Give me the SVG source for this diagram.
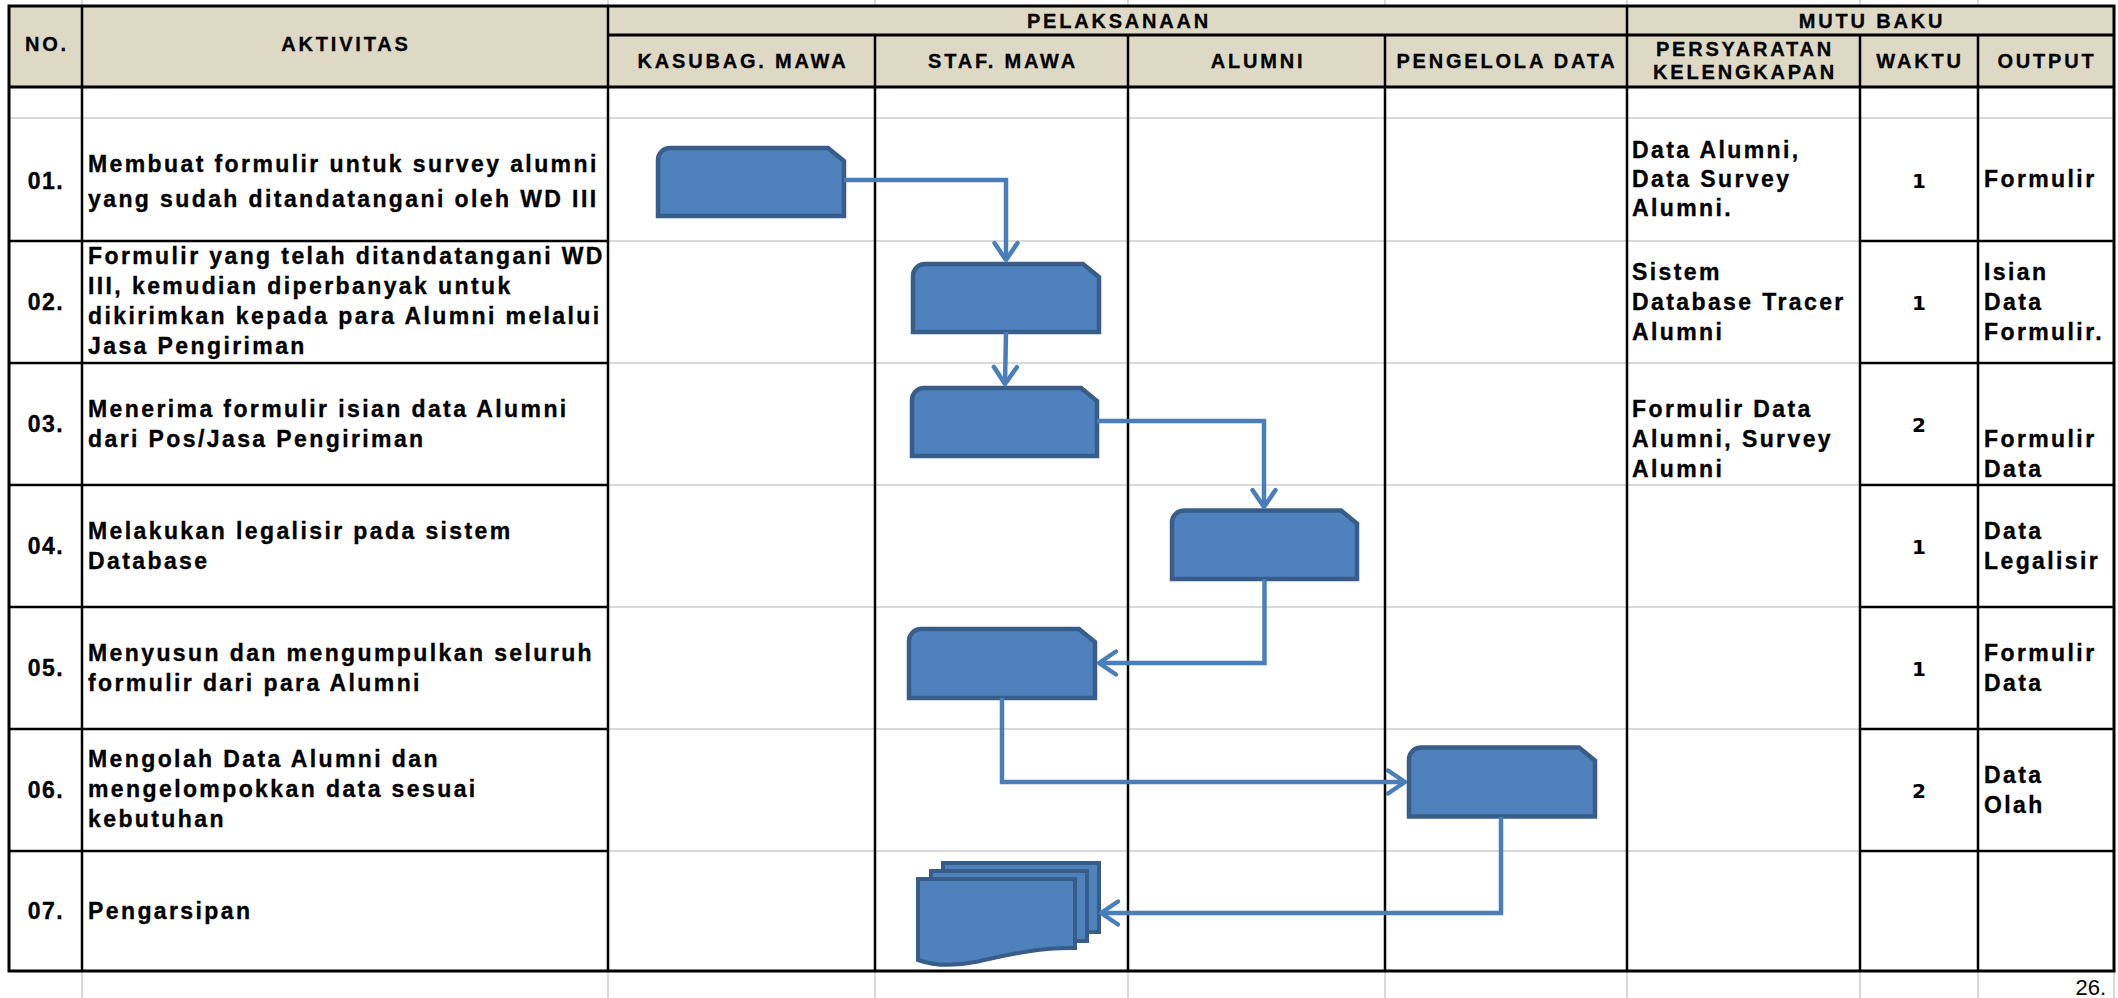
<svg xmlns="http://www.w3.org/2000/svg" width="2118" height="998" viewBox="0 0 2118 998">
<style>
.g{stroke:#D9D9D9;stroke-width:2;fill:none}
.k{stroke:#000;stroke-width:2.5;fill:none}
.kb{stroke:#000;stroke-width:3;fill:none}
.h{font-family:"Liberation Sans",Arial,sans-serif;font-weight:bold;font-size:20px;letter-spacing:2.8px;text-anchor:middle;fill:#000;stroke:#000;stroke-width:0.3}
.t{font-family:"Liberation Sans",Arial,sans-serif;font-weight:bold;font-size:23px;letter-spacing:2.4px;fill:#000;stroke:#000;stroke-width:0.35}
.n{font-family:"Liberation Sans",Arial,sans-serif;font-weight:bold;font-size:23px;letter-spacing:1.5px;text-anchor:middle;fill:#000;stroke:#000;stroke-width:0.35}
.w{font-family:"DejaVu Sans",Verdana,sans-serif;font-weight:bold;font-size:20px;text-anchor:middle;fill:#000}
.pg{font-family:"Liberation Sans",Arial,sans-serif;font-size:22px;text-anchor:end;fill:#000}
.box{fill:#4F81BD;stroke:#385D8A;stroke-width:4.5}
.doc{fill:#4F81BD;stroke:#385D8A;stroke-width:4}
.c{fill:none;stroke:#4A7EBB;stroke-width:4.5;marker-end:url(#arr)}
</style>
<defs>
<marker id="arr" markerUnits="userSpaceOnUse" markerWidth="30" markerHeight="30" viewBox="-24 -15 30 30" refX="0" refY="0" orient="auto" overflow="visible">
<path d="M-17,-11.5 L0,0 L-17,11.5" fill="none" stroke="#4A7EBB" stroke-width="4.5" stroke-linecap="round" stroke-linejoin="round"/>
</marker>
</defs>
<rect x="0" y="0" width="2118" height="998" fill="#fff"/>
<g id="sheet-grid" class="g">
<path d="M82,0V6 M608,0V6 M875,0V6 M1128,0V6 M1385,0V6 M1627,0V6 M1860,0V6 M1978,0V6"/>
<path d="M82,972V998 M608,972V998 M875,972V998 M1128,972V998 M1385,972V998 M1627,972V998 M1860,972V998 M1978,972V998 M2114,972V998"/>
<path d="M9,118H2114 M608,241H1860 M608,363H1860 M608,485H1860 M608,607H1860 M608,729H1860 M608,851H1860"/>
</g>
<g id="table">
<rect x="9" y="6" width="2105" height="81" fill="#DDD9C4"/>
<g class="k">
<path d="M82,6V971 M608,6V971 M1627,6V971 M875,35V971 M1128,35V971 M1385,35V971 M1860,35V971 M1978,35V971"/>
<path d="M9,241H608 M9,363H608 M9,485H608 M9,607H608 M9,729H608 M9,851H608"/>
<path d="M1860,241H2114 M1860,363H2114 M1860,485H2114 M1860,607H2114 M1860,729H2114 M1860,851H2114"/>
</g>
<g class="kb">
<path d="M608,35H2114 M9,87H2114"/>
<rect x="9" y="6" width="2105" height="965"/>
</g>
<g id="header-text">
<text class="h" x="47" y="51">NO.</text>
<text class="h" x="346" y="51">AKTIVITAS</text>
<text class="h" x="1119" y="28">PELAKSANAAN</text>
<text class="h" x="1872" y="28">MUTU BAKU</text>
<text class="h" x="743" y="68">KASUBAG. MAWA</text>
<text class="h" x="1003" y="68">STAF. MAWA</text>
<text class="h" x="1258" y="68">ALUMNI</text>
<text class="h" x="1507" y="68">PENGELOLA DATA</text>
<text class="h" x="1745" y="56">PERSYARATAN</text>
<text class="h" x="1745" y="79">KELENGKAPAN</text>
<text class="h" x="1920" y="68">WAKTU</text>
<text class="h" x="2047" y="68">OUTPUT</text>
</g>
<g id="rows-text">
<text class="n" x="46" y="189">01.</text>
<text class="t" x="88" y="172">Membuat formulir untuk survey alumni</text>
<text class="t" x="88" y="207">yang sudah ditandatangani oleh WD III</text>
<text class="n" x="46" y="310">02.</text>
<text class="t" x="88" y="264">Formulir yang telah ditandatangani WD</text>
<text class="t" x="88" y="294">III, kemudian diperbanyak untuk</text>
<text class="t" x="88" y="324">dikirimkan kepada para Alumni melalui</text>
<text class="t" x="88" y="354">Jasa Pengiriman</text>
<text class="n" x="46" y="432">03.</text>
<text class="t" x="88" y="417">Menerima formulir isian data Alumni</text>
<text class="t" x="88" y="447">dari Pos/Jasa Pengiriman</text>
<text class="n" x="46" y="554">04.</text>
<text class="t" x="88" y="539">Melakukan legalisir pada sistem</text>
<text class="t" x="88" y="569">Database</text>
<text class="n" x="46" y="676">05.</text>
<text class="t" x="88" y="661">Menyusun dan mengumpulkan seluruh</text>
<text class="t" x="88" y="691">formulir dari para Alumni</text>
<text class="n" x="46" y="798">06.</text>
<text class="t" x="88" y="767">Mengolah Data Alumni dan</text>
<text class="t" x="88" y="797">mengelompokkan data sesuai</text>
<text class="t" x="88" y="827">kebutuhan</text>
<text class="n" x="46" y="919">07.</text>
<text class="t" x="88" y="919">Pengarsipan</text>
<text class="t" x="1632" y="158">Data Alumni,</text>
<text class="t" x="1632" y="187">Data Survey</text>
<text class="t" x="1632" y="216">Alumni.</text>
<text class="t" x="1632" y="280">Sistem</text>
<text class="t" x="1632" y="310">Database Tracer</text>
<text class="t" x="1632" y="340">Alumni</text>
<text class="t" x="1632" y="417">Formulir Data</text>
<text class="t" x="1632" y="447">Alumni, Survey</text>
<text class="t" x="1632" y="477">Alumni</text>
<text class="w" x="1919" y="188">1</text>
<text class="w" x="1919" y="310">1</text>
<text class="w" x="1919" y="432">2</text>
<text class="w" x="1919" y="554">1</text>
<text class="w" x="1919" y="676">1</text>
<text class="w" x="1919" y="798">2</text>
<text class="t" x="1984" y="187">Formulir</text>
<text class="t" x="1984" y="280">Isian</text>
<text class="t" x="1984" y="310">Data</text>
<text class="t" x="1984" y="340">Formulir.</text>
<text class="t" x="1984" y="447">Formulir</text>
<text class="t" x="1984" y="477">Data</text>
<text class="t" x="1984" y="539">Data</text>
<text class="t" x="1984" y="569">Legalisir</text>
<text class="t" x="1984" y="661">Formulir</text>
<text class="t" x="1984" y="691">Data</text>
<text class="t" x="1984" y="783">Data</text>
<text class="t" x="1984" y="813">Olah</text>
</g>
<text class="pg" x="2106" y="995">26.</text>
</g>
<g id="nodes">
<g id="n1"><path class="box" d="M658,160 A12,12 0 0 1 670,148 H828 L844,161 V216 H658 Z"/></g>
<g id="n2"><path class="box" d="M913,276 A12,12 0 0 1 925,264 H1083 L1099,277 V332 H913 Z"/></g>
<g id="n3"><path class="box" d="M912,400 A12,12 0 0 1 924,388 H1081 L1097,401 V456 H912 Z"/></g>
<g id="n4"><path class="box" d="M1172,522.5 A12,12 0 0 1 1184,510.5 H1341 L1357,523.5 V579 H1172 Z"/></g>
<g id="n5"><path class="box" d="M909,641 A12,12 0 0 1 921,629 H1079 L1095,642 V698 H909 Z"/></g>
<g id="n6"><path class="box" d="M1409,759.5 A12,12 0 0 1 1421,747.5 H1579 L1595,760.5 V816.5 H1409 Z"/></g>
<g id="n7">
<rect class="doc" x="943" y="863" width="156" height="69"/>
<rect class="doc" x="931" y="871" width="156" height="70"/>
<path class="doc" d="M918,879 H1075 V948 C1035,947 1000,957 975,962 C955,966 935,966 918,960 Z"/>
</g>
</g>
<g id="connectors">
<path class="c" d="M844,180 H1006 V260"/>
<path class="c" d="M1006,332 L1005,384"/>
<path class="c" d="M1097,421 H1264 V507"/>
<path class="c" d="M1264.5,579 V663 H1099"/>
<path class="c" d="M1002,698 V782 H1405"/>
<path class="c" d="M1501,817 V913 H1101"/>
</g>
</svg>
